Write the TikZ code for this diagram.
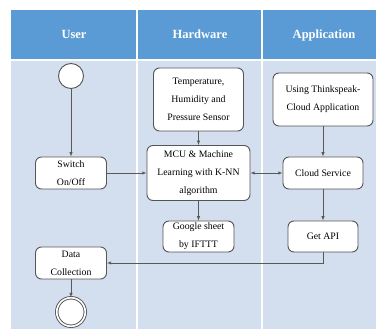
\documentclass[tikz,border=0pt]{standalone}
\usepackage{fontspec}
\setmainfont{Liberation Serif}
\usetikzlibrary{shapes,arrows,positioning}
\definecolor{headblue}{RGB}{91,155,213}
\definecolor{laneblue}{RGB}{211,222,239}
\definecolor{edgegray}{RGB}{85,85,85}
\tikzset{
    lane/.style={fill=laneblue,draw=none},
    head/.style={fill=headblue,draw=none},
    flowbox/.style={draw=edgegray,line width=0.9pt,rounded corners=6pt,fill=white,
        inner sep=0pt,align=center,font=\fontsize{9.8}{18}\selectfont},
    endpoint/.style={circle,draw=edgegray,fill=white,line width=0.9pt,inner sep=0pt},
    flow/.style={->,>=latex,draw=gray!70!black,line width=0.5pt},
}

\begin{document}
\begin{tikzpicture}[x=1pt,y=-1pt]
\useasboundingbox (0,0) rectangle (376,329);
\foreach \a/\b/\c/\t in {11/136/74/User,138/261/200/Hardware,263/376/324/Application}
  {
   \fill[head] (\a,10) rectangle (\b,59);
   \fill[lane] (\a,61) rectangle (\b,329);
   \node [text=white,anchor=base,font=\fontsize{12.5}{15}\selectfont\bfseries] (h\t) at (\c,39) {\t};}

\node [endpoint,minimum size=25pt] (start) at (71,76) {};
\node [flowbox,minimum width=71pt,minimum height=32pt] (switch) at (71,173) {Switch\\On/Off};
\node [flowbox,minimum width=90pt,minimum height=63pt] (sensor) at (198.5,99.5) {Temperature,\\Humidity and\\Pressure Sensor};
\node [flowbox,minimum width=103pt,minimum height=55pt] (mcu) at (198.5,173) {MCU \& Machine\\Learning with K-NN\\algorithm};
\node [flowbox,minimum width=71pt,minimum height=31pt] (sheet) at (198.5,236.5) {Google sheet\\by IFTTT};
\node [flowbox,minimum width=100pt,minimum height=53pt] (think) at (323,99.5) {Using Thinkspeak-\\Cloud Application};
\node [flowbox,minimum width=80pt,minimum height=32pt] (cloud) at (323,173) {Cloud Service};
\node [flowbox,minimum width=70pt,minimum height=31pt] (api) at (323,236.5) {Get API};
\node [flowbox,minimum width=71pt,minimum height=32pt] (data) at (71,263) {Data\\Collection};
\node [endpoint,minimum size=28.5pt,double=white,double distance=1.6pt] (stop) at (71,312) {};

\draw[flow] (start) -- (switch);
\draw[flow] (switch) -- (mcu);
\draw[flow] (sensor) -- (mcu);
\draw[flow] (mcu) -- (sheet);
\draw[flow,<->] (mcu) -- (cloud);
\draw[flow] (think) -- (cloud);
\draw[flow] (cloud) -- (api);
\draw[flow] (api) |- (data);
\draw[flow] (data) -- (stop);
\end{tikzpicture}
\end{document}
